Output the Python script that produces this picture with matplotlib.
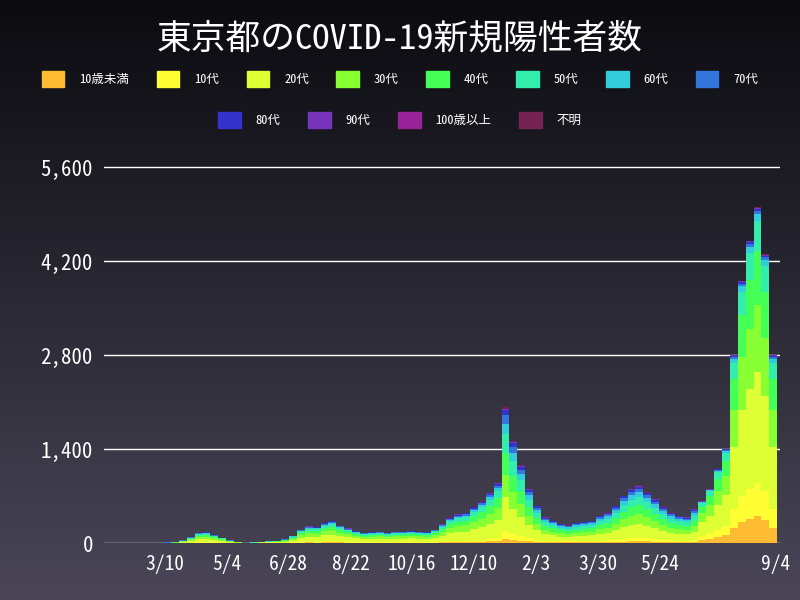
import numpy as np
import pandas as pd
import matplotlib
matplotlib.use('Agg')
import matplotlib.pyplot as plt
import matplotlib.dates as mdates
from matplotlib.patches import Patch

plt.rcParams['font.family'] = ['Noto Sans Mono CJK JP', 'Noto Sans CJK JP', 'DejaVu Sans Mono']

# weekly average of daily new cases, weeks starting 2020-01-20
week_start = '2020-01-20'
weekly_total = [1, 1, 1, 2, 3, 3, 5, 8, 12, 40, 90, 150, 160, 120, 80, 40, 15, 7, 10,
                20, 25, 35, 55, 110, 200, 250, 240, 300, 330, 260, 220, 180, 150, 160,
                170, 150, 170, 170, 180, 170, 160, 200, 280, 380, 430, 450, 540, 620,
                750, 900, 2000, 1500, 1150, 800, 550, 380, 330, 280, 260, 300, 310,
                330, 400, 450, 550, 700, 800, 850, 750, 650, 540, 450, 400, 380, 500,
                620, 800, 1100, 1400, 2800, 3900, 4500, 5000, 4300, 2800]
# age-share profile used for each week (0: 2020, 1: winter 2021, 2: summer 2021)
phase = [0] * 50 + [1] * 25 + [2] * 10

age_labels = ['10歳未満', '10代', '20代', '30代', '40代', '50代', '60代', '70代',
              '80代', '90代', '100歳以上', '不明']
age_colors = ['#ffbb33', '#ffff33', '#ddff33', '#88ff33', '#44ff55', '#33eeaa',
              '#33ccdd', '#3377dd', '#3333cc', '#7733bb', '#992299', '#772255']
share_profiles = [
    [0.03, 0.05, 0.30, 0.20, 0.16, 0.12, 0.05, 0.04, 0.03, 0.01, 0.001, 0.009],
    [0.03, 0.06, 0.25, 0.17, 0.16, 0.14, 0.08, 0.06, 0.04, 0.01, 0.001, 0.009],
    [0.08, 0.10, 0.33, 0.20, 0.16, 0.09, 0.02, 0.01, 0.006, 0.003, 0.0005, 0.0005],
]

tick_dates = ['2020-03-10', '2020-05-04', '2020-06-28', '2020-08-22', '2020-10-16',
              '2020-12-10', '2021-02-03', '2021-03-30', '2021-05-24', '2021-09-04']
tick_labels = ['3/10', '5/4', '6/28', '8/22', '10/16', '12/10', '2/3', '3/30', '5/24', '9/4']

dates = pd.date_range(week_start, periods=len(weekly_total), freq='7D')
x = mdates.date2num(dates) + 3
totals = np.array(weekly_total, dtype=float)
shares = np.array([share_profiles[p] for p in phase])

fig = plt.figure(figsize=(8, 6), dpi=100)
bg = fig.add_axes([0, 0, 1, 1], zorder=-10)
grad = np.linspace(0, 1, 256).reshape(-1, 1)
bg.imshow(grad, aspect='auto', extent=[0, 1, 0, 1],
          cmap=matplotlib.colors.LinearSegmentedColormap.from_list('g', ['#0b0b10', '#4a4658']))
bg.axis('off')

ax = fig.add_axes([0.13, 0.095, 0.845, 0.66])
ax.patch.set_alpha(0)
bottom = np.zeros(len(totals))
for i, (lab, col) in enumerate(zip(age_labels, age_colors)):
    vals = totals * shares[:, i]
    ax.bar(x, vals, width=7, bottom=bottom, color=col, linewidth=0)
    bottom += vals

ax.set_xlim(mdates.date2num(pd.Timestamp('2020-01-16')), mdates.date2num(pd.Timestamp('2021-09-08')))
ax.set_ylim(0, 5900)
yt = [0, 1400, 2800, 4200, 5600]
ax.set_yticks(yt)
ax.set_yticklabels([f'{v:,}' for v in yt], color='white', fontsize=15)
ax.yaxis.grid(True, color='white', lw=1)
ax.set_axisbelow(True)
ax.set_xticks(mdates.date2num(pd.to_datetime(tick_dates)))
ax.set_xticklabels(tick_labels, color='white', fontsize=14)
ax.tick_params(length=0, pad=8)
for s in ax.spines.values():
    s.set_visible(False)

fig.text(0.5, 0.935, '東京都のCOVID-19新規陽性者数', color='white', fontsize=25,
         ha='center', va='center')
handles = [Patch(color=c, label=l) for l, c in zip(age_labels, age_colors)]
kw = dict(frameon=False, labelcolor='white', fontsize=9, handlelength=1.8,
          handleheight=1.6, columnspacing=2.2, handletextpad=1.2)
fig.legend(handles=handles[:8], ncol=8, loc='center', bbox_to_anchor=(0.5, 0.868), **kw)
fig.legend(handles=handles[8:], ncol=4, loc='center', bbox_to_anchor=(0.5, 0.8), **kw)

fig.savefig('out.png', dpi=100)
